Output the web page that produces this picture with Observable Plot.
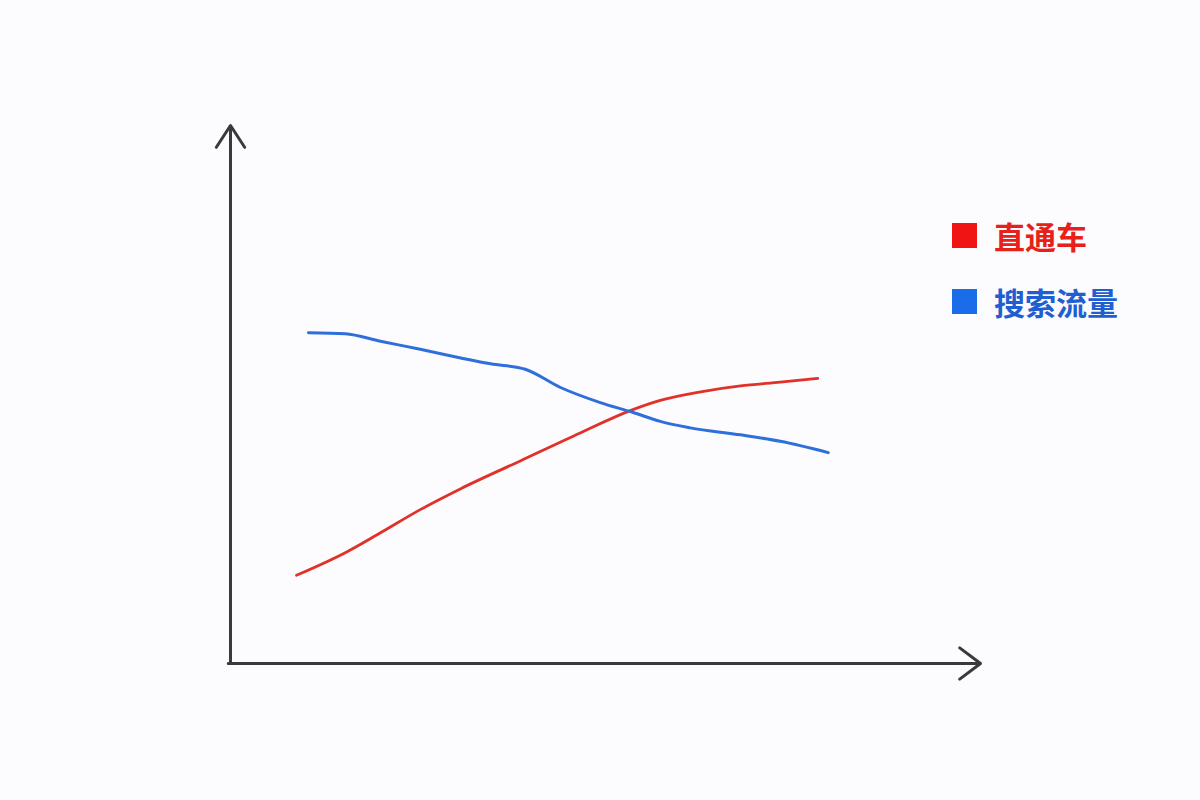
<!DOCTYPE html>
<html>
<head>
<meta charset="utf-8">
<script src="https://cdn.jsdelivr.net/npm/d3@7"></script>
<script src="https://cdn.jsdelivr.net/npm/@observablehq/plot@0.6"></script>
<style>
  html, body { margin: 0; padding: 0; background: #fcfbfd; }
  #wrap { position: relative; width: 1200px; height: 800px; overflow: hidden; }
  .leg { position: absolute; left: 952px; display: flex; align-items: center;
         font-family: "Noto Sans CJK SC", sans-serif; font-weight: 700; font-size: 31px; line-height: 1; }
  .leg .sw { width: 25px; height: 25px; margin-right: 17px; }
</style>
</head>
<body>
<div id="wrap"></div>
<script>
// Series (arbitrary units)
const seriesNames = ["直通车", "搜索流量"];
const seriesColors = ["#e0322a", "#2e6fdc"];
const legendColors = ["#f01414", "#1a6ce8"];
const legendTextColors = ["#e8201a", "#1f5fd2"];

const redX = [8.8, 15.3, 20, 25.3, 30.7, 38.7, 46.7, 53.3, 57.3, 62.7, 68, 73.3, 78.3];
const redY = [16.4, 20.6, 24.3, 28.6, 32.5, 37.7, 42.9, 47.0, 48.9, 50.5, 51.6, 52.3, 53.0];

const blueX = [10.4, 15.3, 20, 25.3, 30.7, 34.7, 39.3, 44, 49.3, 53.6, 57.3, 61.3, 68, 73.3, 79.7];
const blueY = [61.5, 61.3, 59.9, 58.4, 56.8, 55.7, 54.7, 51.3, 48.5, 46.7, 45.0, 43.8, 42.5, 41.3, 39.2];

const red = redX.map((x, i) => ({x, y: redY[i]}));
const blue = blueX.map((x, i) => ({x, y: blueY[i]}));

const axisColor = "#3a3a3a";

const chart = Plot.plot({
  width: 1200,
  height: 800,
  marginLeft: 230,
  marginRight: 220,
  marginTop: 125,
  marginBottom: 137,
  x: {domain: [0, 100], axis: null},
  y: {domain: [0, 100], axis: null},
  style: {background: "#fcfbfd"},
  marks: [
    Plot.arrow([{x1: 0, y1: 0, x2: 0, y2: 100}], {x1: "x1", y1: "y1", x2: "x2", y2: "y2", stroke: axisColor, strokeWidth: 3, headLength: 13, headAngle: 66}),
    Plot.arrow([{x1: -0.3, y1: 0, x2: 100, y2: 0}], {x1: "x1", y1: "y1", x2: "x2", y2: "y2", stroke: axisColor, strokeWidth: 3, headLength: 13, headAngle: 74}),
    Plot.line(red, {x: "x", y: "y", stroke: seriesColors[0], strokeWidth: 2.8, curve: "monotone-x"}),
    Plot.line(blue, {x: "x", y: "y", stroke: seriesColors[1], strokeWidth: 3, curve: "monotone-x"})
  ]
});

const wrap = document.getElementById("wrap");
wrap.appendChild(chart);

const tops = [220, 286];
seriesNames.forEach((name, i) => {
  const d = document.createElement("div");
  d.className = "leg";
  d.style.top = tops[i] + "px";
  d.style.color = legendTextColors[i];
  const sw = document.createElement("div");
  sw.className = "sw";
  sw.style.background = legendColors[i];
  d.appendChild(sw);
  const t = document.createElement("span");
  t.textContent = name;
  d.appendChild(t);
  wrap.appendChild(d);
});
</script>
</body>
</html>
